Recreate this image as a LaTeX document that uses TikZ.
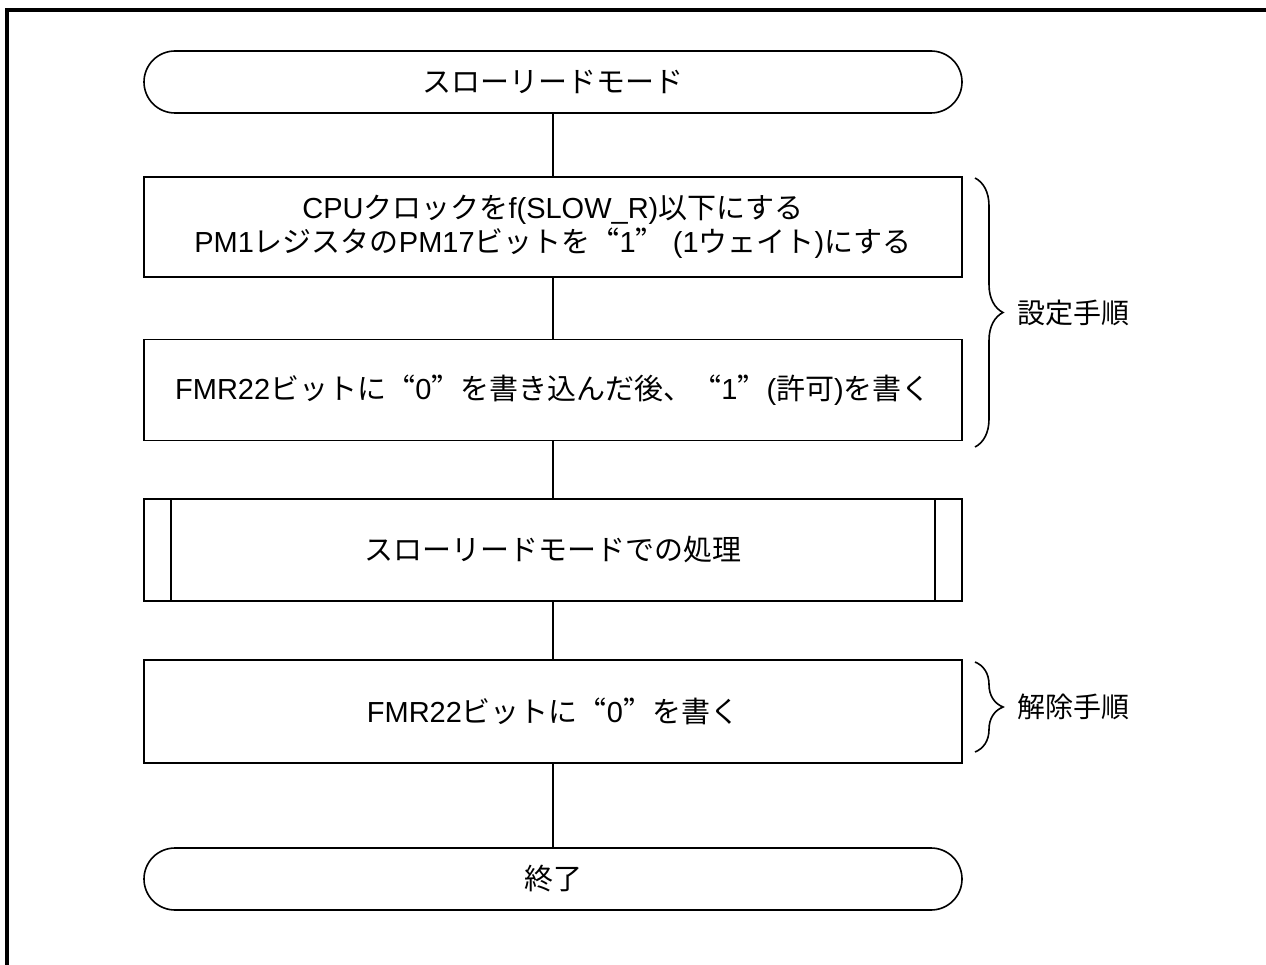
\documentclass[tikz,border=0pt]{standalone}
\usepackage{fontspec}
\setmainfont{Liberation Sans}
\newfontfamily\jp{Noto Sans CJK JP}
\newfontfamily\jpq[RawFeature=+fwid]{Noto Sans CJK JP}
\usetikzlibrary{calc,decorations.pathreplacing}
\newcommand\J[1]{{\jp #1}}
\newcommand\Q[1]{{\jpq “}#1{\jpq ”}}
\begin{document}
\begin{tikzpicture}[x=1pt,y=-1pt,
  base/.style={draw,line width=1.6pt,inner sep=0pt,align=center,font=\fontsize{29}{34}\selectfont},
  term/.style={base,minimum width=818pt,minimum height=62pt,rounded corners=31pt},
  proc/.style={base,minimum width=818pt,minimum height=101pt},
  conn/.style={line width=1.6pt},
  brc/.style={line width=1.6pt,decorate,decoration={brace,amplitude=28pt,aspect=0.5}},
  lbl/.style={anchor=west,inner sep=0pt,font=\fontsize{28}{34}\selectfont\jp}]
\useasboundingbox (0,0) rectangle (1266,965);
\draw[line width=4pt] (7,965) -- (7,10) -- (1266,10);
\node[term] (t1) at (553,82) {\J{スローリードモード}};
\node[proc,minimum height=100pt] (p1) at (553,227) {CPU\J{クロックを}f(SLOW\_R)\J{以下にする}\\PM1\J{レジスタの}PM17\J{ビットを}\Q{1} (1\J{ウェイト})\J{にする}};
\node[proc] (p2) at (553,390) {FMR22\J{ビットに}\Q{0}\J{を書き込んだ後、}\Q{1}(\J{許可})\J{を書く}};
\node[proc,minimum height=102pt] (s) at (553,550) {\J{スローリードモードでの処理}};
\node[proc,minimum height=103pt] (p3) at (553,711.5) {FMR22\J{ビットに}\Q{0}\J{を書く}};
\node[term] (t2) at (553,879) {\J{終了}};
\draw[conn] (t1) -- (p1);
\draw[conn] (p1) -- (p2);
\draw[conn] (p2) -- (s);
\draw[conn] (s) -- (p3);
\draw[conn] (p3) -- (t2);
\draw[conn] ($(s.north west)+(28,0)$) -- ($(s.south west)+(28,0)$);
\draw[conn] ($(s.north east)+(-28,0)$) -- ($(s.south east)+(-28,0)$);
\coordinate (b1a) at (975,178);
\coordinate (b1b) at (975,447);
\coordinate (b2a) at (975,662);
\coordinate (b2b) at (975,752);
\draw[brc] (b1a) -- (b1b);
\draw[brc] (b2a) -- (b2b);
\node[lbl] (l1) at (1017,313) {設定手順};
\node[lbl] (l2) at (1017,707) {解除手順};
\end{tikzpicture}
\end{document}
